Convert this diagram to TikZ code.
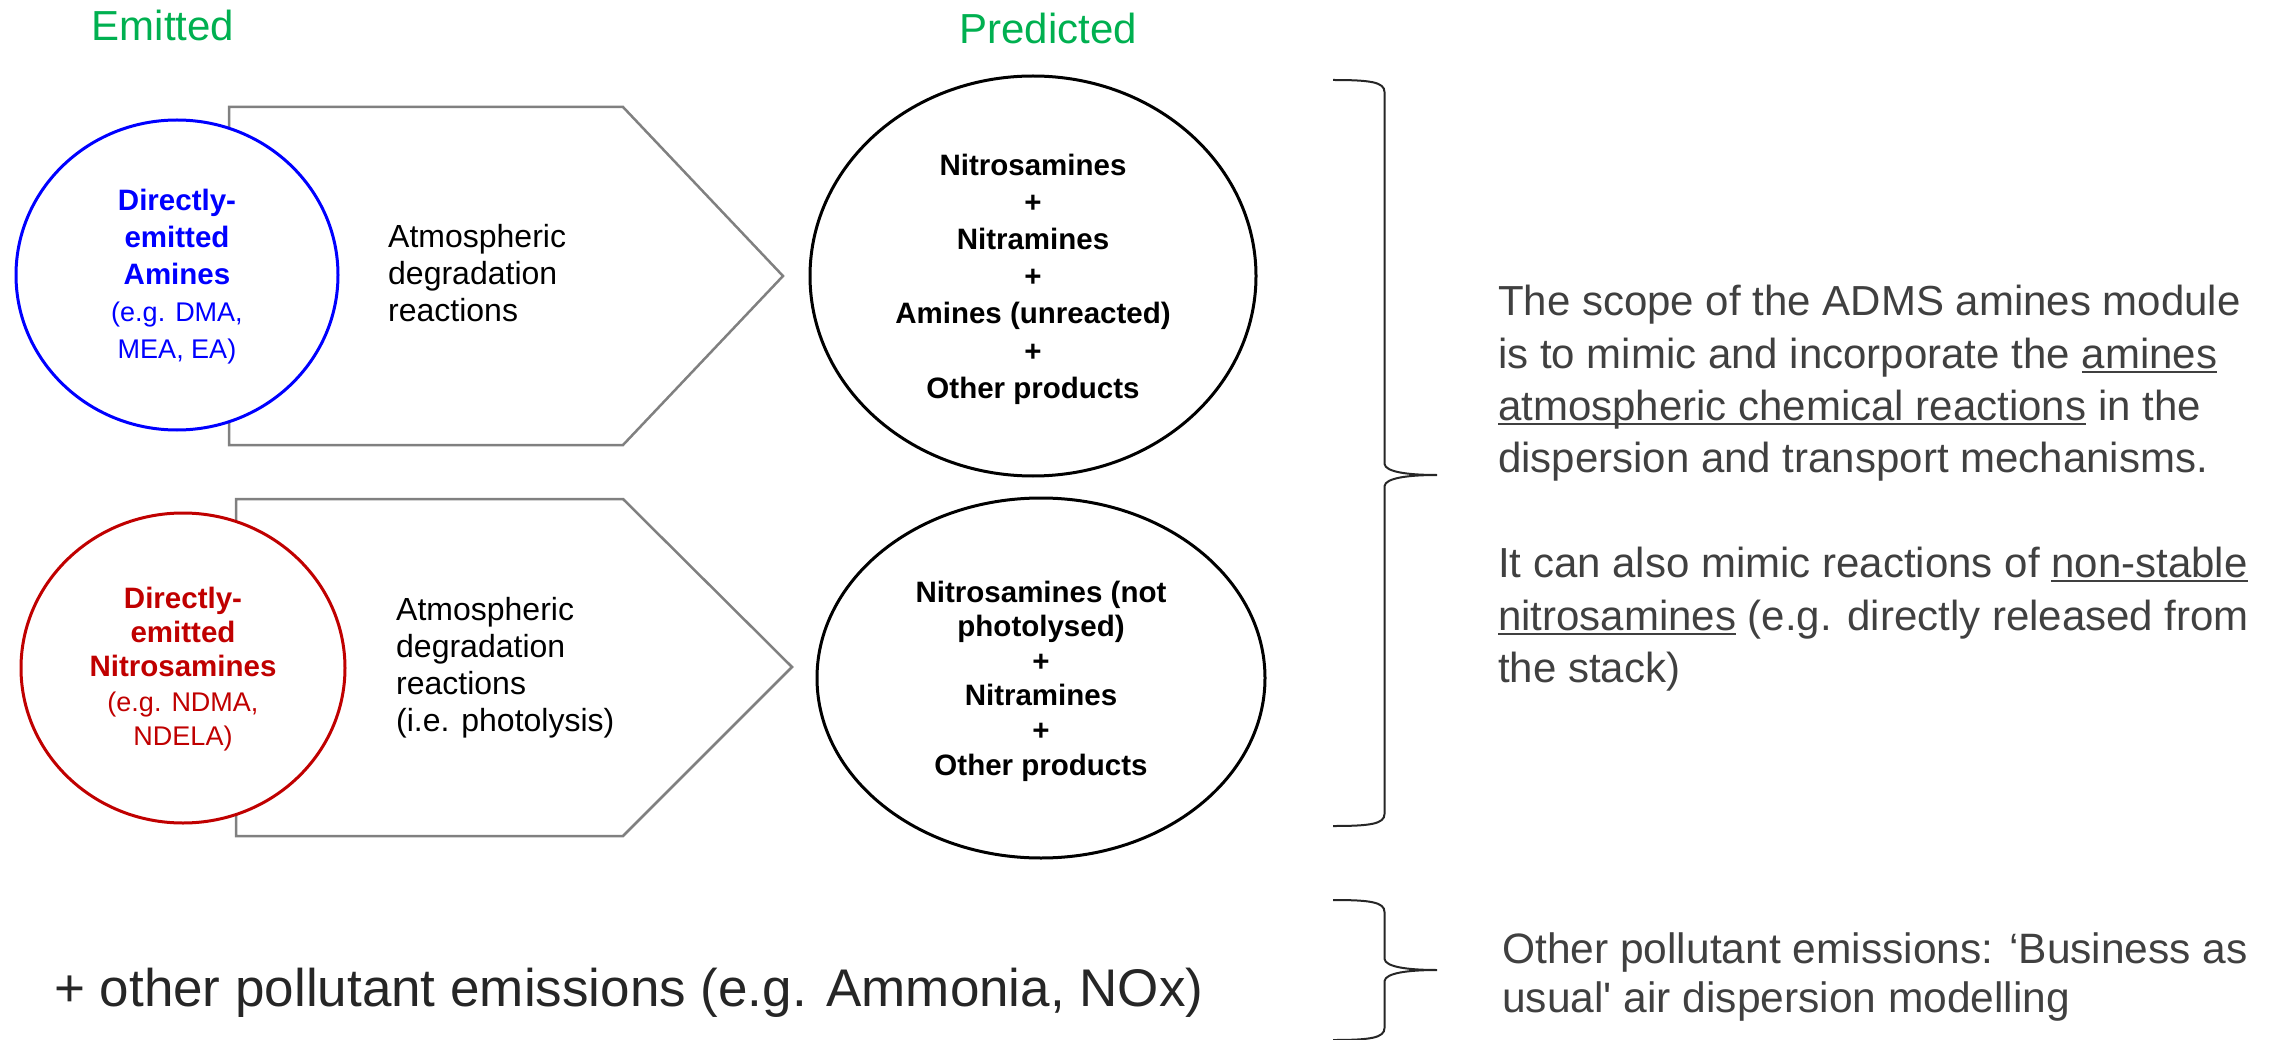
\documentclass[tikz,border=0pt]{standalone}
\usepackage{fontspec}
\setmainfont{Liberation Sans}
\usetikzlibrary{shapes.geometric}
\definecolor{emgreen}{RGB}{0,176,80}
\definecolor{amblue}{RGB}{0,0,255}
\definecolor{nitred}{RGB}{192,0,0}
\definecolor{chevgray}{RGB}{128,128,128}
\definecolor{txtgray}{RGB}{64,64,64}
\definecolor{bracegray}{RGB}{38,38,38}
\newcommand{\ulx}[1]{\leavevmode\setbox0\hbox{#1}\rlap{\rule[-4.5pt]{\wd0}{1.8pt}}\box0\relax}
\newcommand{\regsz}{\fontsize{27}{37}\selectfont}
\begin{document}
\begin{tikzpicture}[x=1pt,y=-1pt,
  heading/.style={font=\fontsize{42}{50}\selectfont, text=emgreen, anchor=base, inner sep=0pt},
  chevron/.style={draw=chevgray, line width=2.5pt, fill=white, line join=miter},
  oval/.style={ellipse, draw, line width=3pt, fill=white, inner sep=0pt},
  ovaltext/.style={align=center, inner sep=0pt},
  reacttext/.style={align=left, anchor=north west, inner sep=0pt, font=\fontsize{32}{37}\selectfont},
  bodytext/.style={align=left, anchor=north west, inner sep=0pt, text=txtgray},
  bracepath/.style={draw=bracegray, line width=2pt}
]
\path[use as bounding box] (0,0) rectangle (2282,1040);
\clip (0,0) rectangle (2282,1040);

% headings
\node[heading] (emitted) at (163,41) {Emitted};
\node[heading] (predicted) at (1048,44) {Predicted};

% chevrons
\draw[chevron] (229,107) -- (623,107) -- (783,276) -- (623,445) -- (229,445) -- cycle;
\draw[chevron] (236,499) -- (623,499) -- (792,667) -- (623,836) -- (236,836) -- cycle;

% emitted ellipses
\node[oval, draw=amblue, minimum width=322pt, minimum height=310pt] (amines) at (177,275) {};
\node[ovaltext, text=amblue, font=\fontsize{29.5}{37}\selectfont] (aminestext) at (177,277)
  {\textbf{Directly-}\\\textbf{emitted}\\\textbf{Amines}\\{\regsz (e.g. DMA,}\\{\regsz MEA, EA)}};

\node[oval, draw=nitred, minimum width=324pt, minimum height=310pt] (nitro) at (183,668) {};
\node[ovaltext, text=nitred, font=\fontsize{29.5}{34.3}\selectfont] (nitrotext) at (183,669)
  {\textbf{Directly-}\\\textbf{emitted}\\\textbf{Nitrosamines}\\{\regsz (e.g. NDMA,}\\{\regsz NDELA)}};

% reaction labels
\node[reacttext] (react1) at (388,224) {Atmospheric\\degradation\\reactions};
\node[reacttext] (react2) at (396,597) {Atmospheric\\degradation\\reactions\\(i.e. photolysis)};

% predicted ellipses
\node[oval, draw=black, minimum width=446pt, minimum height=400pt] (pred1) at (1033,276) {};
\node[ovaltext, font=\bfseries\fontsize{29.5}{37.2}\selectfont] (pred1text) at (1033,279)
  {Nitrosamines\\+\\Nitramines\\+\\Amines (unreacted)\\+\\Other products};

\node[oval, draw=black, minimum width=448pt, minimum height=360pt] (pred2) at (1041,678) {};
\node[ovaltext, font=\bfseries\fontsize{29.5}{34.6}\selectfont] (pred2text) at (1041,681)
  {Nitrosamines (not\\photolysed)\\+\\Nitramines\\+\\Other products};

% braces
\draw[bracepath] (1333,80) .. controls (1370,80) and (1384.5,82) .. (1384.5,92)
  -- (1384.5,464) .. controls (1385.5,472) and (1408,475) .. (1437,475)
  .. controls (1408,475) and (1385.5,478) .. (1384.5,486)
  -- (1384.5,814) .. controls (1384.5,824) and (1370,826) .. (1333,826);
\draw[bracepath] (1333,900) .. controls (1370,900) and (1384.5,902) .. (1384.5,912)
  -- (1384.5,959) .. controls (1385.5,967) and (1408,970) .. (1437,970)
  .. controls (1408,970) and (1385.5,973) .. (1384.5,981)
  -- (1384.5,1028) .. controls (1384.5,1038) and (1370,1040) .. (1333,1040);

% right texts
\node[bodytext, font=\fontsize{42}{52.4}\selectfont] (scope) at (1498,285)
  {The scope of the ADMS amines module\\
   is to mimic and incorporate the \ulx{amines}\\
   \ulx{atmospheric chemical reactions} in the\\
   dispersion and transport mechanisms.\\[52.4pt]
   It can also mimic reactions of \ulx{non-stable}\\
   \ulx{nitrosamines} (e.g. directly released from\\
   the stack)};

\node[bodytext, font=\fontsize{42.5}{49}\selectfont] (business) at (1502,932)
  {Other pollutant emissions: `Business as\\
   usual\textquotesingle{} air dispersion modelling};

\node[anchor=base west, inner sep=0pt, text=bracegray, font=\fontsize{53}{60}\selectfont] (other) at (54,1006)
  {+ other pollutant emissions (e.g. Ammonia, NOx)};
\end{tikzpicture}
\end{document}
